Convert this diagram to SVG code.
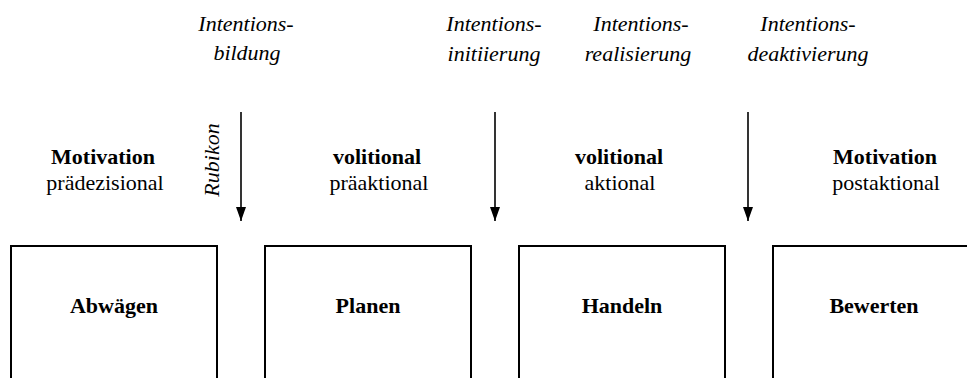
<svg xmlns="http://www.w3.org/2000/svg" width="967" height="378" viewBox="0 0 967 378">
  <defs>
    <style>
      text { font-family: "Liberation Serif", "Times New Roman", serif; font-size: 22px; fill: #000; text-anchor: middle; }
      .it { font-style: italic; }
      .b { font-weight: bold; }
      .box { fill: #fff; stroke: #000; stroke-width: 2; }
      .arr { stroke: #000; stroke-width: 1.6; fill: none; }
    </style>
    <marker id="head" markerWidth="14" markerHeight="10" refX="14" refY="5" orient="auto" markerUnits="userSpaceOnUse" viewBox="0 0 14 10">
      <path d="M0,0 L14,5 L0,10 Z" fill="#000"/>
    </marker>
  </defs>
  <rect width="967" height="378" fill="#fff"/>

  <g id="labels-top">
    <text class="it" x="246" y="31">Intentions-</text>
    <text class="it" x="247" y="60">bildung</text>
    <text class="it" x="494" y="31">Intentions-</text>
    <text class="it" x="494" y="61">initiierung</text>
    <text class="it" x="641" y="31">Intentions-</text>
    <text class="it" x="638" y="61">realisierung</text>
    <text class="it" x="808" y="31">Intentions-</text>
    <text class="it" x="808" y="61">deaktivierung</text>
    <text class="it" transform="translate(219,160) rotate(-90)" x="0" y="0">Rubikon</text>
  </g>

  <g id="phases">
    <text class="b" x="103" y="164">Motivation</text>
    <text x="105" y="190">prädezisional</text>
    <text class="b" x="377" y="164">volitional</text>
    <text x="379" y="190">präaktional</text>
    <text class="b" x="619" y="164">volitional</text>
    <text x="620" y="190">aktional</text>
    <text class="b" x="885" y="164">Motivation</text>
    <text x="886" y="190">postaktional</text>
  </g>

  <g id="connectors">
    <line class="arr" x1="241" y1="112" x2="241" y2="221" marker-end="url(#head)"/>
    <line class="arr" x1="495" y1="112" x2="495" y2="221" marker-end="url(#head)"/>
    <line class="arr" x1="748" y1="112" x2="748" y2="221" marker-end="url(#head)"/>
  </g>

  <g id="node-abwaegen">
    <rect class="box" x="11" y="246" width="206" height="150"/>
    <text class="b" x="114" y="313">Abwägen</text>
  </g>
  <g id="node-planen">
    <rect class="box" x="265" y="246" width="206" height="150"/>
    <text class="b" x="368" y="313">Planen</text>
  </g>
  <g id="node-handeln">
    <rect class="box" x="519" y="246" width="206" height="150"/>
    <text class="b" x="622" y="313">Handeln</text>
  </g>
  <g id="node-bewerten">
    <rect class="box" x="773" y="246" width="206" height="150"/>
    <text class="b" x="874" y="313">Bewerten</text>
  </g>
</svg>
